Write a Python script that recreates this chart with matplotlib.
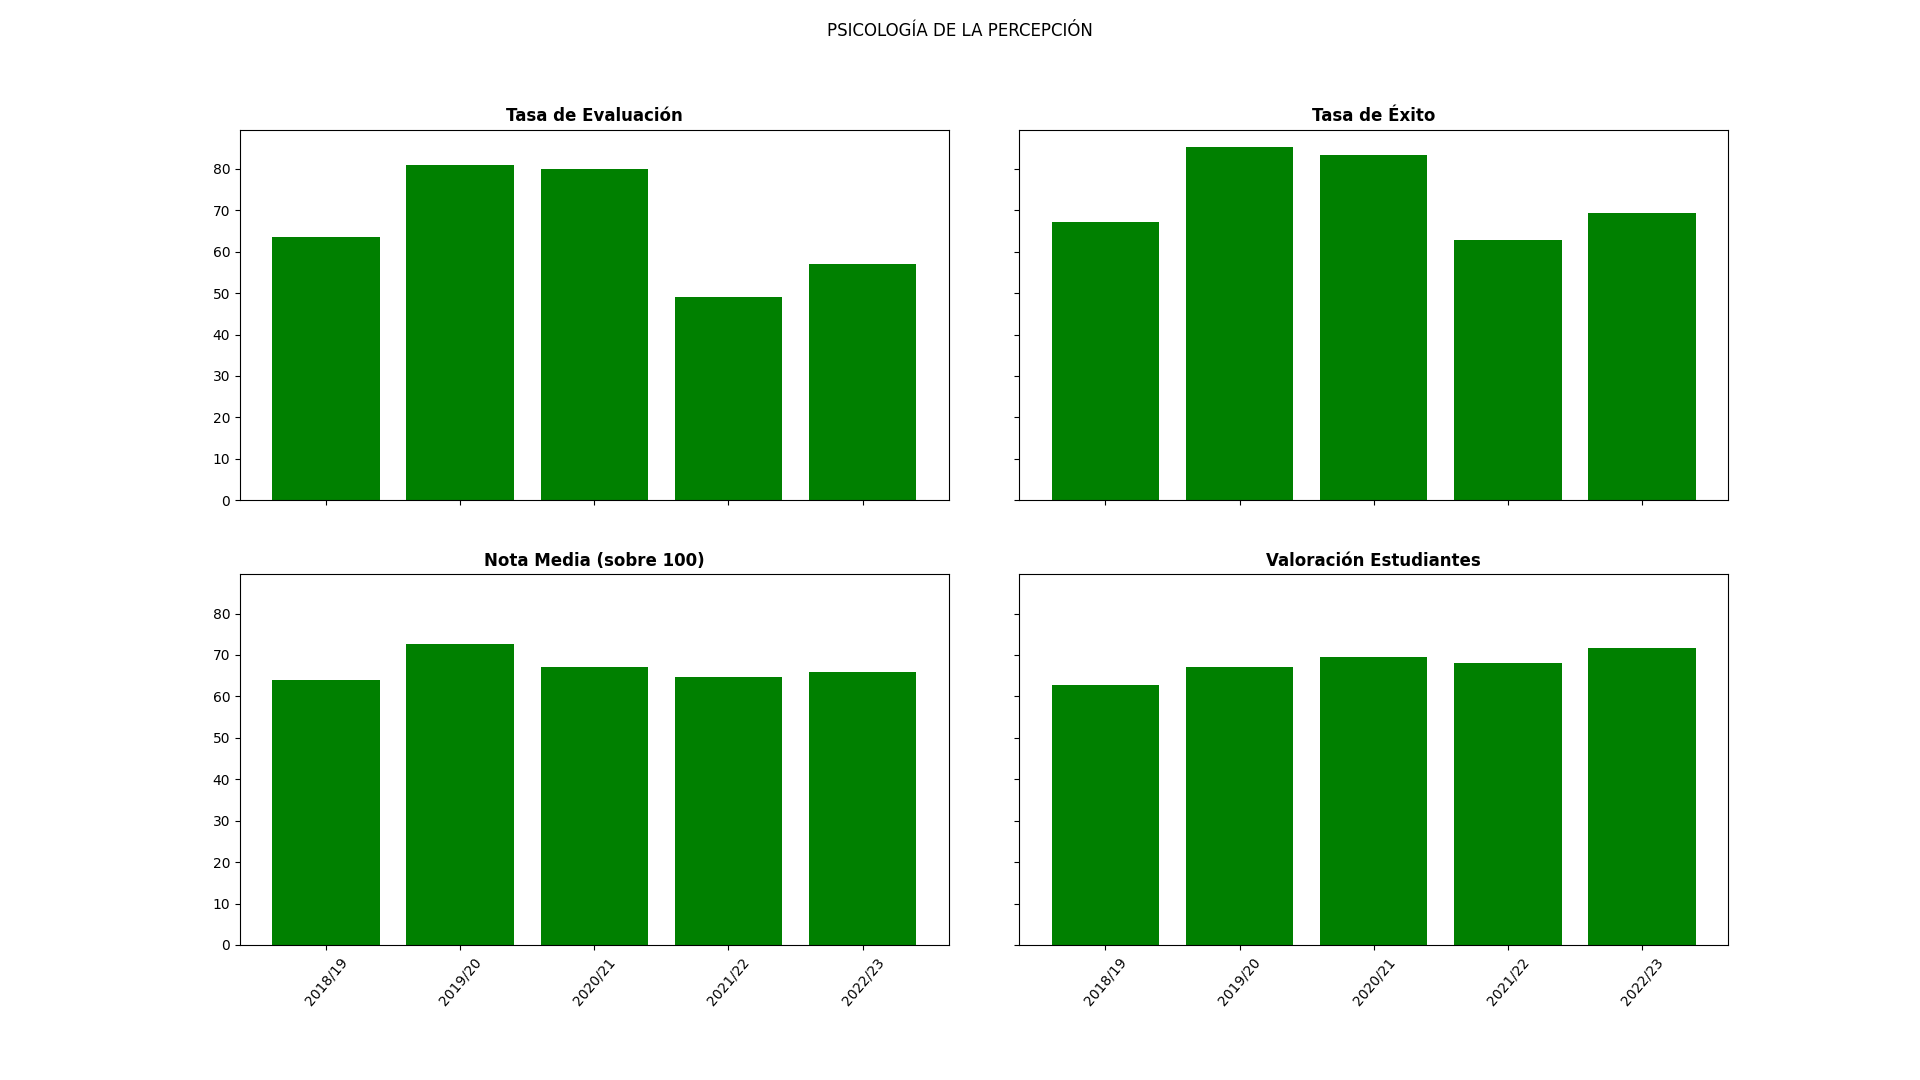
import matplotlib
matplotlib.use("Agg")
import matplotlib.pyplot as plt

plt.rcParams["font.family"] = ["DejaVu Sans"]

cursos = ["2018/19", "2019/20", "2020/21", "2021/22", "2022/23"]
tasa_evaluacion = [63.5, 80.9, 79.9, 49.0, 56.9]
tasa_exito = [67.1, 85.2, 83.3, 62.7, 69.3]
nota_media = [63.9, 72.6, 67.0, 64.6, 66.0]
valoracion = [62.7, 67.2, 69.4, 68.0, 71.6]

titulos = ["Tasa de Evaluación", "Tasa de Éxito", "Nota Media (sobre 100)", "Valoración Estudiantes"]
series = [tasa_evaluacion, tasa_exito, nota_media, valoracion]

fig, axes = plt.subplots(2, 2, figsize=(19.2, 10.8), dpi=100, sharex=True, sharey=True)
fig.subplots_adjust(bottom=0.125, wspace=0.1, hspace=0.2)
fig.suptitle("PSICOLOGÍA DE LA PERCEPCIÓN")

for ax, titulo, vals in zip(axes.flat, titulos, series):
    ax.bar(cursos, vals, color="green")
    ax.set_title(titulo, fontweight="bold")

for ax in axes[1]:
    ax.tick_params(axis="x", labelrotation=50)

fig.savefig("out.png")
